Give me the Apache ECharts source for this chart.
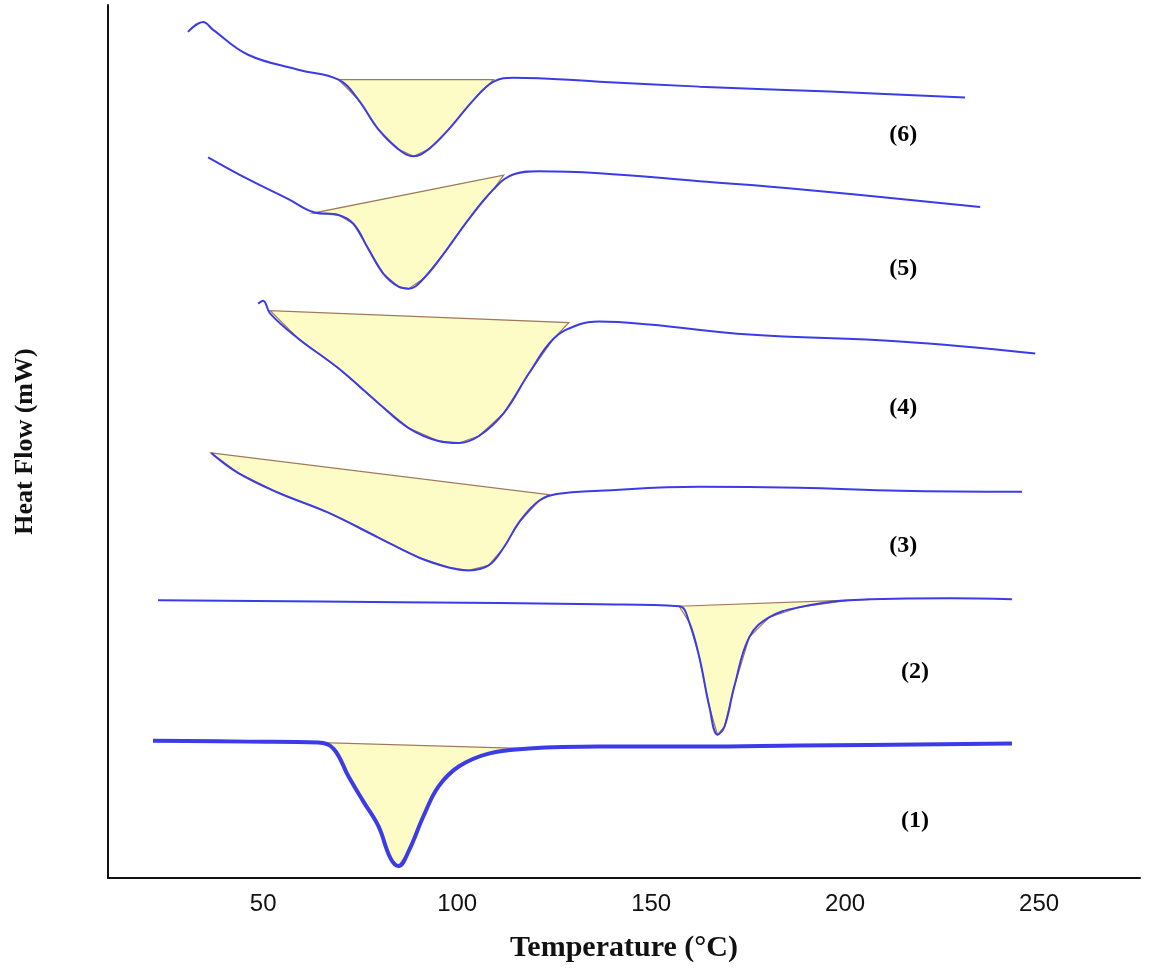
<!DOCTYPE html>
<html><head><meta charset="utf-8">
<script src="https://cdn.jsdelivr.net/npm/echarts@6/dist/echarts.min.js"></script>
<style>html,body{margin:0;padding:0;background:#fff}#c{width:1150px;height:968px}</style>
</head><body><div id="c"></div>
<script>
// x: temperature (°C), y: heat flow offset (arbitrary, downward = endotherm)
const xTicks = [50, 100, 150, 200, 250];
const curve6 = [[30.6,32],[34.5,22],[37.1,30],[46.1,55],[59,70],[69.4,80],[74.5,100],[79.7,130],[84.9,150],[88.8,157],[92.6,150],[97.8,130],[104.3,100],[109.4,82],[114.6,78],[136.6,82],[162.4,87],[196,92],[230.9,98]];
const curve5 = [[35.8,158],[46.1,180],[56.5,200],[62.9,213],[69.4,216],[73.3,225],[77.1,250],[81,275],[84.9,288],[87.5,290],[91.3,280],[96.5,255],[103,220],[109.4,190],[114.6,175],[121.1,172],[136.6,174],[162.4,182],[188.2,190],[234.8,208]];
const curve4 = [[48.7,305],[50,302],[51.8,315],[59,340],[69.4,370],[79.7,405],[87.5,430],[95.2,443],[100.4,445],[105.6,438],[112,415],[118.5,375],[124.9,340],[131.4,326],[136.6,323],[149.5,326],[175.3,336],[214.1,343],[249,355]];
const curve3 = [[36.6,455],[43.5,475],[53.9,495],[66.8,515],[79.7,540],[90.1,560],[97.8,570],[103,573],[108.1,568],[112,550],[115.9,525],[121.1,503],[126.2,496],[136.6,493],[162.4,489],[188.2,490],[214.1,493],[245.6,494]];
const curve2 = [[22.9,603],[84.9,605],[136.6,607],[157.2,609],[159.8,625],[162.4,660],[165,710],[167.1,738],[168.9,730],[171.4,690],[175.3,640],[180.5,620],[188.2,610],[201.2,603],[227,601],[243,602]];
const curve1 = [[21.6,744],[46.1,745],[64.2,746],[68.1,752],[72,780],[75.8,805],[79.7,830],[82.8,862],[84.9,870],[87.5,855],[91.3,820],[95.2,790],[100.4,770],[108.1,757],[118.5,752],[136.6,750],[162.4,750],[188.2,749],[243,747]];
// baselines of integrated peaks: [start, end]
const base6 = [[69.4,80],[109.4,80]];
const base5 = [[62.9,214],[112,176]];
const base4 = [[51.8,312],[128.8,324]];
const base3 = [[36.6,455],[123.6,497]];
const base2 = [[157.2,609],[206.3,602]];
const base1 = [[65.5,746],[118.5,752]];
const labels = ['(6)','(5)','(4)','(3)','(2)','(1)'];
const labelPos = [[215,135],[215,270],[215,410],[215,548],[218,675],[218,825]];

const curves = [curve6,curve5,curve4,curve3,curve2,curve1];
const bases = [base6,base5,base4,base3,base2,base1];

function polyFor(curve, base){
  const pts = [base[0]];
  curve.forEach(p => { if (p[0] > base[0][0] && p[0] < base[1][0]) pts.push(p); });
  pts.push(base[1]);
  return pts;
}
const series = [];
curves.forEach((c,i) => {
  const poly = polyFor(c, bases[i]);
  series.push({
    type:'custom', z:1, silent:true,
    data:[0],
    renderItem:(params, api) => ({
      type:'polygon', shape:{points: poly.map(p => api.coord(p))},
      style:{fill:'#fdfbc6', stroke:'#a0785a', lineWidth:1.2}
    })
  });
  series.push({
    type:'line', z:3, data:c, smooth:0.4, symbol:'none',
    lineStyle:{color:'#3c3ce6', width: i===5 ? 4 : 2}
  });
});
labels.forEach((t,i)=>{
  series.push({type:'scatter', data:[labelPos[i]], symbolSize:0, silent:true, itemStyle:{opacity:1},
    label:{show:true, formatter:t, position:'inside', fontFamily:'Liberation Serif', fontWeight:'bold', fontSize:24, color:'#000'}});
});

const chart = echarts.init(document.getElementById('c'));
chart.setOption({
  animation:false,
  grid:{left:108, right:10, top:5, bottom:86},
  xAxis:{type:'value', min:10, max:276,
    axisLabel:{customValues: xTicks, fontFamily:'Liberation Sans', fontSize:24, color:'#111', margin:14},
    axisLine:{lineStyle:{color:'#111', width:2}}, axisTick:{show:false}, splitLine:{show:false},
    name:'Temperature (°C)', nameLocation:'middle', nameGap:55,
    nameTextStyle:{fontFamily:'Liberation Serif', fontWeight:'bold', fontSize:30, color:'#111'}},
  yAxis:{type:'value', inverse:true, min:5, max:882,
    axisLabel:{show:false}, axisTick:{show:false}, splitLine:{show:false},
    axisLine:{show:true, lineStyle:{color:'#111', width:2}},
    name:'Heat Flow (mW)', nameLocation:'middle', nameGap:70,
    nameTextStyle:{fontFamily:'Liberation Serif', fontWeight:'bold', fontSize:26, color:'#111'}},
  series
});
</script></body></html>
